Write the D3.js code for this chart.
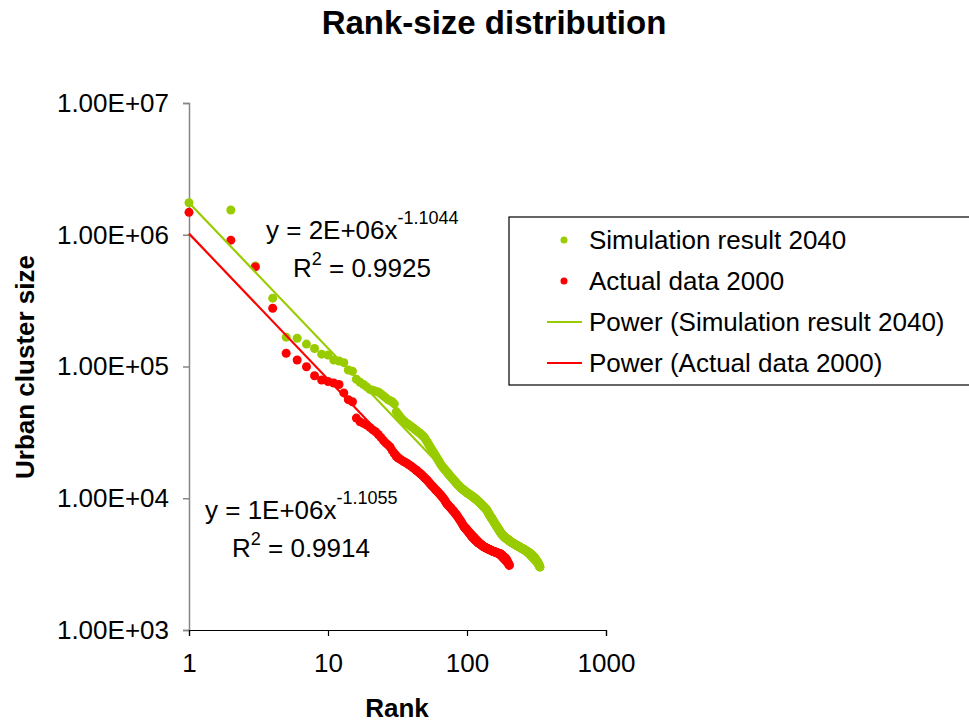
<!DOCTYPE html>
<html>
<head>
<meta charset="utf-8">
<script src="https://cdn.jsdelivr.net/npm/d3@7"></script>
<style>
  body { margin: 0; background: #fff; }
  svg { display: block; font-family: "Liberation Sans", Arial, sans-serif; }
</style>
</head>
<body>
<svg id="chart" width="969" height="724"></svg>
<script>
// ---- data (cluster size in thousands, index = rank - 1) ----
const simulation2040 = [
  1750, 1540, 580, 330, 167, 164, 148, 137, 124, 122,
  112, 110, 107, 94, 92, 80, 76, 73, 70, 67,
  66, 65, 64, 62, 60, 58, 56, 55, 54, 52,
  45.5, 43.5, 41.5, 40, 38.8, 37.8, 37, 36.2, 35.5, 34.8,
  34.2, 33.5, 32.8, 32.2, 31.6, 31, 30.4, 29.8, 29.2, 28.3,
  27.4, 26.5, 25.6, 24.8, 24, 23.3, 22.6, 21.9, 21.3, 20.7,
  20.1, 19.5, 19, 18.4, 18, 17.6, 17.2, 16.9, 16.6, 16.3,
  16, 15.7, 15.4, 15.2, 14.9, 14.7, 14.4, 14.2, 14, 13.8,
  13.6, 13.4, 13.2, 13.0, 12.8, 12.65, 12.5, 12.35, 12.2, 12.05,
  11.9, 11.8, 11.7, 11.6, 11.5, 11.4, 11.3, 11.2, 11.1, 11.0,
  10.93, 10.86, 10.79, 10.72, 10.65, 10.58, 10.5, 10.42, 10.35, 10.27,
  10.2, 10.12, 10.04, 9.97, 9.9, 9.82, 9.75, 9.67, 9.6, 9.52,
  9.45, 9.37, 9.3, 9.22, 9.14, 9.06, 8.98, 8.9, 8.83, 8.76,
  8.69, 8.62, 8.55, 8.48, 8.41, 8.34, 8.27, 8.2, 8.1, 8.0,
  7.9, 7.8, 7.7, 7.6, 7.5, 7.4, 7.3, 7.2, 7.15, 7.1,
  7.02, 6.94, 6.86, 6.78, 6.7, 6.62, 6.55, 6.48, 6.41, 6.34,
  6.27, 6.2, 6.15, 6.1, 6.04, 5.98, 5.92, 5.86, 5.8, 5.74,
  5.68, 5.62, 5.57, 5.52, 5.47, 5.42, 5.38, 5.34, 5.3, 5.27,
  5.24, 5.21, 5.18, 5.15, 5.12, 5.09, 5.06, 5.03, 5.0, 4.98,
  4.96, 4.94, 4.92, 4.9, 4.89, 4.88, 4.86, 4.84, 4.82, 4.8,
  4.78, 4.76, 4.74, 4.72, 4.7, 4.68, 4.66, 4.64, 4.62, 4.6,
  4.59, 4.58, 4.57, 4.56, 4.55, 4.53, 4.52, 4.51, 4.5, 4.49,
  4.47, 4.46, 4.45, 4.44, 4.43, 4.41, 4.4, 4.39, 4.38, 4.37,
  4.35, 4.34, 4.33, 4.32, 4.31, 4.3, 4.29, 4.28, 4.27, 4.25,
  4.24, 4.23, 4.22, 4.21, 4.2, 4.19, 4.18, 4.17, 4.16, 4.15,
  4.14, 4.13, 4.12, 4.11, 4.1, 4.09, 4.08, 4.07, 4.06, 4.05,
  4.04, 4.03, 4.02, 4.01, 4.0, 3.99, 3.98, 3.97, 3.96, 3.95,
  3.94, 3.93, 3.92, 3.91, 3.9, 3.89, 3.88, 3.87, 3.86, 3.85,
  3.84, 3.83, 3.82, 3.81, 3.8, 3.79, 3.78, 3.77, 3.76, 3.75,
  3.74, 3.72, 3.71, 3.7, 3.68, 3.67, 3.66, 3.64, 3.63, 3.62,
  3.6, 3.59, 3.58, 3.56, 3.55, 3.53, 3.51, 3.5, 3.48, 3.46,
  3.45, 3.43, 3.41, 3.4, 3.38, 3.36, 3.35, 3.33, 3.31, 3.3,
  3.28, 3.26, 3.24, 3.22, 3.2, 3.18, 3.16, 3.14, 3.12, 3.1,
  3.08, 3.06, 3.04, 3.02, 3.0
];

const actual2000 = [
  1480, 910, 570, 277, 126, 112, 99.6, 85, 79, 77,
  75, 73, 63, 56, 54, 40.6, 38, 37, 36, 34.5,
  33, 32, 30.5, 29, 27.5, 26.3, 25.4, 24.5, 23.0, 21.8,
  20.7, 20.2, 19.8, 19.4, 19.0, 18.7, 18.4, 18.0, 17.7, 17.4,
  17.0, 16.7, 16.4, 16.1, 15.7, 15.4, 15.1, 14.8, 14.5, 14.2,
  13.9, 13.6, 13.3, 13.0, 12.7, 12.4, 12.2, 12.0, 11.7, 11.5,
  11.3, 11.1, 10.9, 10.7, 10.5, 10.3, 10.1, 9.9, 9.7, 9.45,
  9.2, 9.05, 8.9, 8.75, 8.6, 8.5, 8.35, 8.2, 8.1, 8.0,
  7.85, 7.7, 7.6, 7.5, 7.35, 7.2, 7.1, 6.95, 6.85, 6.7,
  6.6, 6.45, 6.35, 6.2, 6.1, 6.0, 5.95, 5.9, 5.8, 5.7,
  5.65, 5.55, 5.5, 5.45, 5.4, 5.3, 5.2, 5.15, 5.1, 5.05,
  5.0, 4.95, 4.9, 4.85, 4.8, 4.78, 4.75, 4.7, 4.65, 4.6,
  4.57, 4.55, 4.52, 4.5, 4.47, 4.45, 4.42, 4.4, 4.37, 4.34,
  4.3, 4.28, 4.27, 4.25, 4.24, 4.22, 4.2, 4.19, 4.17, 4.15,
  4.14, 4.12, 4.11, 4.1, 4.08, 4.07, 4.05, 4.04, 4.02, 4.0,
  3.99, 3.98, 3.97, 3.96, 3.95, 3.94, 3.93, 3.92, 3.91, 3.9,
  3.89, 3.88, 3.87, 3.86, 3.85, 3.84, 3.83, 3.82, 3.81, 3.8,
  3.8, 3.8, 3.8, 3.78, 3.76, 3.74, 3.72, 3.7, 3.68, 3.66,
  3.64, 3.62, 3.6, 3.58, 3.56, 3.54, 3.53, 3.52, 3.51, 3.5,
  3.46, 3.42, 3.38, 3.35, 3.32, 3.28, 3.25, 3.21, 3.18, 3.15,
  3.12, 3.1
];

// power trendlines y = a * x^b
const simFit = { a: 1.75e6, b: -1.1044 };
const actFit = { a: 1.02e6, b: -1.1055 };

const xTicks = [1, 10, 100, 1000];
const xTickLabels = ["1", "10", "100", "1000"];
const yTicks = [1e3, 1e4, 1e5, 1e6, 1e7];
const yTickLabels = ["1.00E+03", "1.00E+04", "1.00E+05", "1.00E+06", "1.00E+07"];

const seriesNames = [
  "Simulation result 2040",
  "Actual data 2000",
  "Power (Simulation result 2040)",
  "Power (Actual data 2000)"
];

const GREEN = "#99cc00";
const RED = "#ff0000";
const AXIS = "#868686";

// ---- setup ----
const svg = d3.select("#chart");
const x = d3.scaleLog().domain([1, 1000]).range([189, 606]);
const y = d3.scaleLog().domain([1e3, 1e7]).range([630, 103]);

const toPoints = arr => arr.map((v, i) => ({ rank: i + 1, value: v * 1000 }));
const simPts = toPoints(simulation2040);
const actPts = toPoints(actual2000);

// ---- title ----
svg.append("text")
  .attr("x", 494).attr("y", 34)
  .attr("text-anchor", "middle")
  .attr("font-size", 33).attr("font-weight", "bold")
  .text("Rank-size distribution");

// ---- axes ----
const yAxis = d3.axisLeft(y)
  .tickValues(yTicks)
  .tickFormat((d, i) => yTickLabels[i])
  .tickSize(6).tickPadding(14);

const yG = svg.append("g")
  .attr("transform", `translate(${x(1)},0)`)
  .call(yAxis);
yG.select(".domain").attr("stroke", AXIS).attr("stroke-width", 1.5);
yG.selectAll(".tick line").attr("stroke", AXIS).attr("stroke-width", 1.5);
yG.selectAll(".tick text")
  .attr("font-size", 26).attr("font-family", "Liberation Sans, Arial, sans-serif")
  .attr("fill", "#000");

const xAxis = d3.axisBottom(x)
  .tickValues(xTicks)
  .tickFormat((d, i) => xTickLabels[i])
  .tickSize(6).tickPadding(18);

const xG = svg.append("g")
  .attr("transform", `translate(0,${y(1e3)})`)
  .call(xAxis);
xG.select(".domain").attr("stroke", "#000").attr("stroke-width", 1.2);
xG.selectAll(".tick line").attr("stroke", "#000").attr("stroke-width", 1.2);
xG.selectAll(".tick text")
  .attr("font-size", 26).attr("font-family", "Liberation Sans, Arial, sans-serif")
  .attr("fill", "#000");

// axis titles
svg.append("text")
  .attr("x", 397).attr("y", 717)
  .attr("text-anchor", "middle")
  .attr("font-size", 26).attr("font-weight", "bold")
  .text("Rank");

svg.append("text")
  .attr("transform", "translate(34,367) rotate(-90)")
  .attr("text-anchor", "middle")
  .attr("font-size", 26).attr("font-weight", "bold")
  .text("Urban cluster size");

// ---- points ----
function drawPoints(pts, color) {
  svg.append("g")
    .selectAll("circle")
    .data(pts)
    .join("circle")
    .attr("cx", d => x(d.rank))
    .attr("cy", d => y(d.value))
    .attr("r", 4.5)
    .attr("fill", color);
}
drawPoints(simPts, GREEN);
drawPoints(actPts, RED);

// ---- trendlines ----
function drawFit(fit, maxRank, color) {
  const ends = [1, maxRank];
  svg.append("path")
    .datum(ends)
    .attr("fill", "none")
    .attr("stroke", color)
    .attr("stroke-width", 2.2)
    .attr("d", d3.line()
      .x(r => x(r))
      .y(r => y(fit.a * Math.pow(r, fit.b))));
}
drawFit(simFit, simPts.length, GREEN);
drawFit(actFit, actPts.length, RED);

// ---- equation labels ----
function equation(xPos, yPos, coef, exp, r2x, r2) {
  const t = svg.append("text")
    .attr("x", xPos).attr("y", yPos)
    .attr("font-size", 26);
  t.append("tspan").text(`y = ${coef}x`);
  t.append("tspan").attr("dy", -15).attr("font-size", 18).text(exp);

  const r = svg.append("text")
    .attr("x", r2x).attr("y", yPos + 38)
    .attr("font-size", 26);
  r.append("tspan").text("R");
  r.append("tspan").attr("dy", -12).attr("font-size", 18).text("2");
  r.append("tspan").attr("dy", 12).text(` = ${r2}`);
}
equation(266, 239, "2E+06", "-1.1044", 293, "0.9925");
equation(205, 519, "1E+06", "-1.1055", 232, "0.9914");

// ---- legend ----
svg.append("rect")
  .attr("x", 509).attr("y", 217)
  .attr("width", 500).attr("height", 168)
  .attr("fill", "#fff")
  .attr("stroke", "#000").attr("stroke-width", 1.2);

const legendRows = [
  { name: seriesNames[0], color: GREEN, type: "dot" },
  { name: seriesNames[1], color: RED, type: "dot" },
  { name: seriesNames[2], color: GREEN, type: "line" },
  { name: seriesNames[3], color: RED, type: "line" }
];

const lg = svg.append("g")
  .selectAll("g")
  .data(legendRows)
  .join("g")
  .attr("transform", (d, i) => `translate(0,${240 + i * 41})`);

lg.filter(d => d.type === "dot")
  .append("circle")
  .attr("cx", 564).attr("cy", 0).attr("r", 3.5)
  .attr("fill", d => d.color);

lg.filter(d => d.type === "line")
  .append("line")
  .attr("x1", 547).attr("x2", 582)
  .attr("y1", 0).attr("y2", 0)
  .attr("stroke", d => d.color).attr("stroke-width", 2.2);

lg.append("text")
  .attr("x", 589).attr("y", 0).attr("dy", "0.35em")
  .attr("font-size", 26)
  .text(d => d.name);
</script>
</body>
</html>
